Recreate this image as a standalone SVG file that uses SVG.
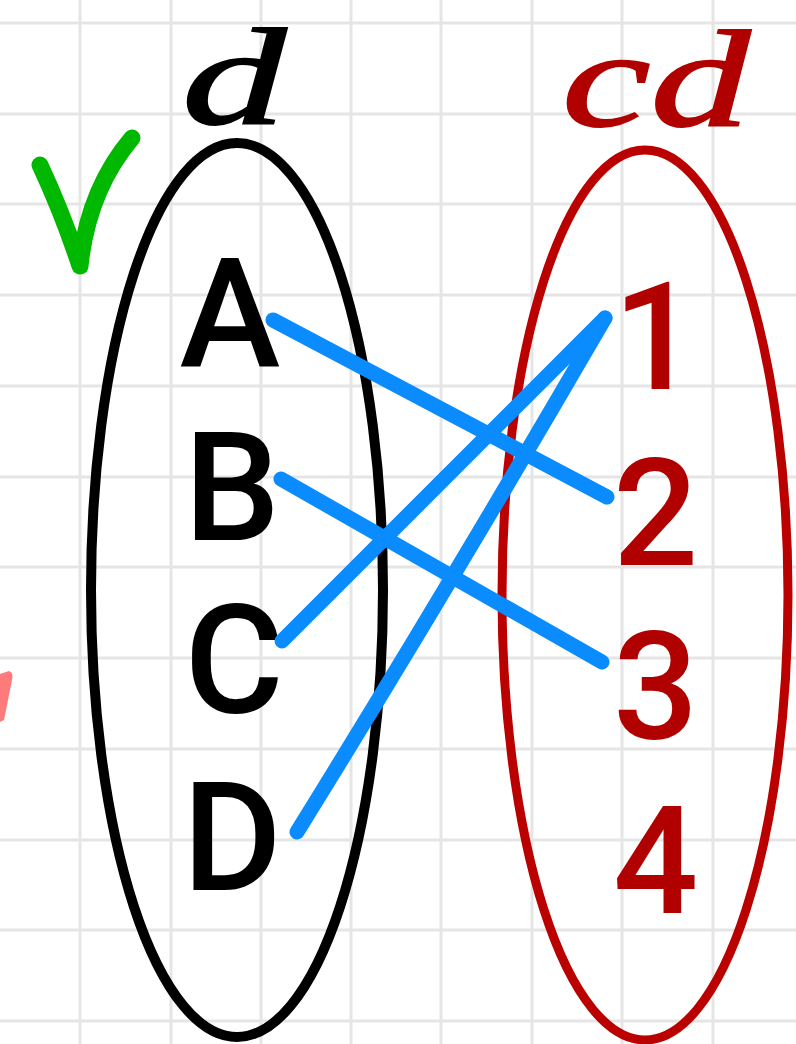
<svg xmlns="http://www.w3.org/2000/svg" width="796" height="1044" viewBox="0 0 796 1044">
<style>
.grid line{stroke:#e5e5e5;stroke-width:3}
.let{font-family:Roboto,"Liberation Sans",sans-serif;font-size:152px;font-weight:500;fill:#000}
.num{font-family:Roboto,"Liberation Sans",sans-serif;font-size:150px;font-weight:500;fill:#b00000}
.hand{font-family:"Liberation Serif",serif;font-style:italic;font-size:138px}
.link{stroke:#0a8cff;stroke-width:15;stroke-linecap:round;fill:none}
</style>
<rect width="796" height="1044" fill="#ffffff"/>
<g class="grid" id="grid">
<line x1="80" y1="0" x2="80" y2="1044"/><line x1="171" y1="0" x2="171" y2="1044"/><line x1="261" y1="0" x2="261" y2="1044"/><line x1="351" y1="0" x2="351" y2="1044"/><line x1="441" y1="0" x2="441" y2="1044"/><line x1="532" y1="0" x2="532" y2="1044"/><line x1="622" y1="0" x2="622" y2="1044"/><line x1="713" y1="0" x2="713" y2="1044"/>
<line x1="0" y1="23" x2="796" y2="23"/><line x1="0" y1="114" x2="796" y2="114"/><line x1="0" y1="204" x2="796" y2="204"/><line x1="0" y1="295" x2="796" y2="295"/><line x1="0" y1="386" x2="796" y2="386"/><line x1="0" y1="477" x2="796" y2="477"/><line x1="0" y1="567" x2="796" y2="567"/><line x1="0" y1="658" x2="796" y2="658"/><line x1="0" y1="749" x2="796" y2="749"/><line x1="0" y1="840" x2="796" y2="840"/><line x1="0" y1="930" x2="796" y2="930"/><line x1="0" y1="1021" x2="796" y2="1021"/>
</g>
<g id="marks">
<path d="M40,165 Q62,212 80,266 Q88,190 132,138" fill="none" stroke="#00b800" stroke-width="17" stroke-linecap="round" stroke-linejoin="round"/>
<path d="M0,674 L9,671 Q14,673 12,680 L4,720 L0,722 Z" fill="#ff7b7b"/>
</g>
<g id="set-d">
<ellipse cx="237" cy="590" rx="146" ry="447" fill="none" stroke="#000" stroke-width="10"/>
<text class="hand" x="182" y="124" fill="#000" stroke="#000" stroke-width="2" textLength="104" lengthAdjust="spacingAndGlyphs">d</text>
</g>
<g id="set-cd">
<ellipse cx="645" cy="595" rx="143" ry="445" fill="none" stroke="#bb0000" stroke-width="9"/>
<text class="hand" x="562" y="126" fill="#b00000" stroke="#b00000" stroke-width="2" textLength="188" lengthAdjust="spacingAndGlyphs">cd</text>
</g>
<g id="node-A"><text class="let" x="230" y="366" text-anchor="middle">A</text></g>
<g id="node-B"><text class="let" x="232" y="540" text-anchor="middle">B</text></g>
<g id="node-C"><text class="let" x="234" y="713" text-anchor="middle">C</text></g>
<g id="node-D"><text class="let" x="232" y="890" text-anchor="middle">D</text></g>
<g id="node-1"><text class="num" x="613" y="389">1</text></g>
<g id="node-2"><text class="num" x="613" y="565">2</text></g>
<g id="node-3"><text class="num" x="613" y="739">3</text></g>
<g id="node-4"><text class="num" x="613" y="913">4</text></g>
<g id="connectors">
<line class="link" x1="273" y1="320" x2="607" y2="497"/>
<line class="link" x1="281" y1="479" x2="602" y2="662"/>
<line class="link" x1="282" y1="641" x2="605" y2="318"/>
<path class="link" d="M297,832 Q450,585 605,318"/>
</g>
</svg>
